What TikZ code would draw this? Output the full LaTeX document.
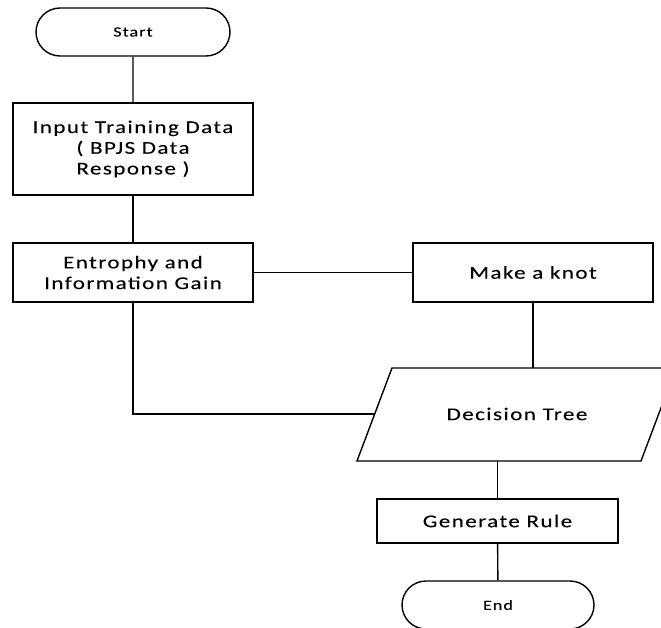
\documentclass[tikz,border=0pt]{standalone}
\usepackage{fontspec}
\setmainfont{Carlito}[FakeStretch=1.28,LetterSpace=8,FakeBold=0.12]
\usetikzlibrary{shapes.misc}
\tikzset{
  flow/.style={draw=black, line width=1.4pt},
  boxnode/.style={draw=black, line width=1.4pt, rectangle, inner sep=0pt, align=center,
    font=\fontsize{18}{20.7}\selectfont},
  termnode/.style={draw=black, line width=1.4pt, rounded rectangle, inner sep=0pt,
    minimum width=194pt, minimum height=48pt, font=\fontsize{14}{16}\selectfont},
  txtnode/.style={inner sep=0pt, align=center, font=\fontsize{18}{20.7}\selectfont}
}
\begin{document}
\begin{tikzpicture}[x=1pt,y=-1pt]
\useasboundingbox (0,0) rectangle (661,628);
\clip (0,0) rectangle (661,628);
\fill[white] (0,0) rectangle (661,628);
\node[termnode] (start) at (133,32) {Start};
\node[boxnode, minimum width=240pt, minimum height=92pt] (input) at (133,149)
  {Input Training Data\\( BPJS Data\\Response )};
\node[boxnode, minimum width=240pt, minimum height=59pt] (entropy) at (133,272.5)
  {Entrophy and\\Information Gain};
\node[boxnode, minimum width=240pt, minimum height=59pt] (knot) at (533,272.5)
  {Make a knot};
\draw[flow] (392,368) -- (676,368) -- (641,461) -- (357,461) -- cycle;
\node[txtnode] (dt) at (517,414) {Decision Tree};
\coordinate (dtTop) at (532,368);
\coordinate (dtLeft) at (375,414);
\coordinate (dtBottom) at (498,461);
\node[boxnode, minimum width=241pt, minimum height=44pt] (gen) at (497.5,521)
  {Generate Rule};
\node[termnode, minimum width=192pt] (end) at (498,605) {End};
\draw[flow] (start) -- (input);
\draw[flow] (input) -- (entropy);
\draw[flow] (entropy) -- (knot);
\draw[flow] (knot.south) -- (knot.south |- dtTop);
\draw[flow] (entropy.south) |- (dtLeft);
\draw[flow] (gen.north |- dtBottom) -- (gen.north);
\draw[flow] (gen) -- (end);
\end{tikzpicture}
\end{document}
